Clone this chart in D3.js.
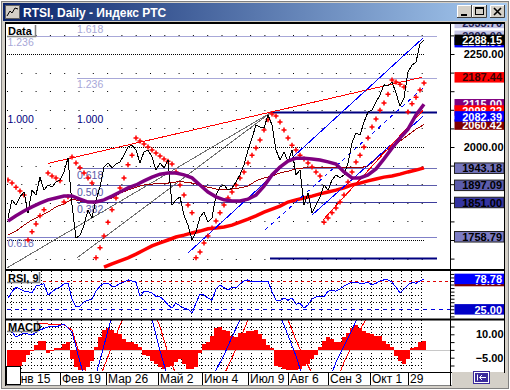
<!DOCTYPE html>
<html>
<head>
<meta charset="utf-8">
<script src="https://cdn.jsdelivr.net/npm/d3@7"></script>
<style>
  body { margin: 0; background: #d4d0c8; }
  svg { display: block; }
  text { font-family: "Liberation Sans", Arial, sans-serif; }
</style>
</head>
<body>
<svg id="mychart" width="510" height="390"></svg>
<script>
const width = 510
const height = 390

// bar index 0 = first bar on screen, closes stored every 2nd bar
const closes = [1809, 1858, 1844, 1866, 1879, 1823, 1884, 1871, 1919, 1884,
  1898, 1892, 1906, 1911, 1933, 1970, 1844, 1755, 1763, 1790,
  1831, 1809, 1858, 1892, 1946, 1957, 1944, 1954, 1960, 1978,
  2000, 2005, 1992, 1957, 1987, 1992, 1973, 1938, 1957, 1944,
  1965, 1844, 1858, 1866, 1817, 1790, 1750, 1772, 1812, 1825,
  1798, 1809, 1871, 1892, 1898, 1884, 1890, 1906, 1925, 1952,
  1992, 2024, 2059, 2054, 2051, 2086, 2059, 1992, 1965, 1987,
  1960, 1992, 1925, 1938, 1844, 1876, 1823, 1844, 1866, 1898,
  1884, 1911, 1925, 1917, 1925, 1957, 2011, 2038, 2032, 2067,
  2094, 2099, 2121, 2140, 2167, 2164, 2175, 2145, 2110, 2132,
  2202, 2220, 2228, 2277, 2288.15]

// moving averages, every 4th bar
const purpleMA = [1801, 1815, 1828, 1839, 1849, 1858, 1863, 1868, 1868, 1860,
  1852, 1852, 1858, 1868, 1879, 1890, 1898, 1909, 1919, 1927,
  1930, 1930, 1925, 1917, 1898, 1879, 1866, 1858, 1855, 1855,
  1860, 1871, 1895, 1925, 1946, 1962, 1970, 1970, 1968, 1965,
  1960, 1954, 1933, 1917, 1917, 1925, 1941, 1968, 1997, 2024,
  2048, 2086, 2115]
const maroonMA = [1763, 1774, 1790, 1804, 1815, 1825, 1839, 1847, 1860, 1855,
  1852, 1852, 1858, 1863, 1876, 1884, 1892, 1898, 1900, 1903,
  1903, 1906, 1906, 1903, 1898, 1892, 1887, 1887, 1887, 1890,
  1895, 1909, 1917, 1922, 1930, 1935, 1941, 1944, 1946, 1946,
  1946, 1946, 1944, 1944, 1944, 1949, 1968, 1987, 2000, 2016,
  2032, 2048, 2060.42]
// long MA starts at bar 48
const redMA = [1677, 1686, 1694, 1702, 1712, 1723, 1734, 1742, 1750, 1758,
  1763, 1769, 1774, 1780, 1782, 1785, 1790, 1798, 1806, 1815,
  1825, 1833, 1841, 1852, 1858, 1863, 1868, 1874, 1879, 1884,
  1890, 1898, 1903, 1909, 1914, 1919, 1922, 1927, 1933, 1938, 1944]

// parabolic SAR, every 2nd bar
const sar = [1911, 1903, 1892, 1882, 1871, 1750, 1772, 1793, 1815, 1831,
  1930, 1922, 1917, 1909, 1852, 1866, 1973, 1957, 1944, 1930,
  1917, 1903, 1702, 1729, 1761, 1798, 1831, 1863, 1890, 1917,
  1952, 1978, 2024, 2016, 2008, 2000, 1992, 1984, 1976, 1968,
  1962, 1954, 1933, 1898, 1871, 1844, 1823, 1702, 1718, 1742,
  1761, 1782, 1801, 1823, 1844, 1863, 1879, 1898, 1917, 1933,
  1957, 1978, 1997, 2019, 2046, 2073, 2089, 2083, 2067, 2046,
  2024, 2005, 1992, 1978, 1968, 1957, 1946, 1933, 1922, 1798,
  1809, 1823, 1836, 1852, 1871, 1906, 1933, 1960, 1978, 2000,
  2024, 2054, 2075, 2099, 2118, 2142, 2180, 2175, 2169, 2161,
  2094, 2116, 2134, 2153, 2172]

// trend lines as [bar, value] pairs
const redTrend = [[20, 1956], [207, 2187.44]]
const blueUpper = [[90, 1715], [207.5, 2293]]
const blueDashed = [[128.5, 1777], [207.5, 2159]]
const blueLower = [[152, 1817], [207.5, 2082.39]]
const redLower = [[157.5, 1804], [207.5, 2098.22]]
const grayFan1 = [[-0.5, 1675], [131, 2091]]
const grayFan2 = [[34.5, 1702], [131, 2091]]

// fibonacci levels
const fibRight = [2333.70, 2185.50, 2093.00, 1943.18, 1897.09, 1851.00, 1700.80]
const fibRightLabels = ["1.618", "1.236", "1.000", "0.618", "0.500", "0.382", ""]
const fibLeft = [2299.00, 2093.00, 1758.79]
const fibLeftLabels = ["1.236", "1.000", "0.618"]

// price tags on the right scale
const tagValues = [2333.70, 2299.00, 2282.00, 2288.15, 2187.44, 2115.00, 2098.22, 2060.42, 2082.39, 1943.18, 1897.09, 1851.00, 1758.79]

// RSI 9, every 2nd bar
const rsi = [45, 56, 64, 61, 57, 56, 54, 66, 68, 70,
  50, 56, 61, 64, 70, 71, 43, 29, 31, 38,
  41, 43, 57, 66, 71, 71, 66, 66, 71, 73,
  77, 75, 73, 48, 57, 56, 54, 48, 47, 41,
  33, 27, 36, 31, 27, 25, 18, 36, 52, 50,
  45, 41, 61, 68, 63, 59, 64, 63, 70, 75,
  77, 73, 75, 75, 73, 75, 56, 41, 40, 45,
  41, 45, 34, 36, 27, 33, 43, 47, 47, 47,
  57, 59, 57, 61, 66, 70, 73, 73, 71, 71,
  73, 68, 71, 75, 77, 77, 73, 64, 54, 61,
  68, 73, 71, 75, 78.78]
const rsiTags = [75, 78.78, 25]

// MACD histogram every 2nd bar, lines every 4th bar
const macdHist = [-10, -10, -10, -10, -8, -3, -1, 3, 6, 6,
  -2, -1, 1, 1, 4, 5, -6, -11, -13, -13,
  -11, -7, 2, 8, 13, 14, 13, 11, 10, 7,
  5, 5, 4, 2, -3, -4, -7, -9, -11, -12,
  -11, -10, -8, -6, -9, -12, -12, -11, -2, 4,
  5, 9, 14, 15, 13, 12, 9, 8, 11, 11,
  12, 12, 13, 10, 7, 3, 1, -10, -11, -12,
  -13, -13, -13, -12, -10, -9, -6, -3, 2, 6,
  8, 7, 5, 5, 8, 11, 14, 16, 14, 12,
  11, 10, 9, 9, 6, 4, 2, -4, -7, -9,
  -6, 1, 2, 5, 6]
const macdLine = [14.7, 8.3, 10.8, 9.6, 12.8, 14.7, 14.7, 16.6, 11.5, -7.8,
  -25, -16, 3, 22, 30, 32, 32, 28, 20, -0.7,
  -18, -28, -32, -32, -30, -22, -13, -3.3, 8.3, 19.2,
  28, 32, 33, 30, 22, 9.5, -4, -20, -28, -30,
  -22, -7.8, 2.5, 12.8, 24, 30, 32, 30, 26, 22,
  22, 24, 26]
const signalLine = [17.2, 17.2, 16.6, 15.3, 17.2, 16.6, 16, 16, 12.8, -3.9,
  -18, -24, -11, 2.5, 16, 26, 30, 31, 28, 14.7,
  -2, -16, -26, -30, -30, -27, -22, -16, -5.2, 7,
  19.2, 27, 31, 32, 30, 19.2, 6.3, -5, -15, -22,
  -25, -21, -7.8, 2.5, 12.8, 22, 28, 30, 30, 28,
  25, 24, 23]

const dateIdx = [1, 26, 49, 75, 97, 120, 140, 160, 181, 200]
const dateLabels = ["Янв 15", "Фев 19", "Мар 26", "Май 2", "Июн 4", "Июл 9", "Авг 6", "Сен 3", "Окт 1", "29"]

const x = d3.scaleLinear().domain([0, 208]).range([8, 424])
const y = d3.scaleLinear().domain([1750, 2250]).range([240, 54])
const yRsi = d3.scaleLinear().domain([25, 75]).range([309.3, 281])
const yMacd = d3.scaleLinear().domain([-5, 10]).range([357.7, 334.3])

const px = v => Math.round(v) + 0.5
const fmt = d3.format(".2f")

function chart() {
  const svg = d3.select('#mychart').attr('viewBox', [0, 0, width, height])
  const defs = svg.append('defs')

  // ---- window chrome ----
  svg.append('rect').attr('width', width).attr('height', height).attr('fill', '#d4d0c8')
  svg.append('rect').attr('x', 0.5).attr('y', 0.5).attr('width', width - 1).attr('height', height - 1)
    .attr('fill', 'none').attr('stroke', '#ffffff')
  svg.append('rect').attr('x', 1.5).attr('y', 1.5).attr('width', width - 3).attr('height', height - 3)
    .attr('fill', 'none').attr('stroke', '#808080')

  const grad = defs.append('linearGradient').attr('id', 'tb')
  grad.append('stop').attr('offset', 0).attr('stop-color', '#0a246a')
  grad.append('stop').attr('offset', 1).attr('stop-color', '#a6caf0')
  svg.append('rect').attr('x', 3).attr('y', 3).attr('width', 504).attr('height', 18).attr('fill', 'url(#tb)')

  // title icon
  svg.append('rect').attr('x', 5.5).attr('y', 5.5).attr('width', 14).attr('height', 13)
    .attr('fill', '#d4d0c8').attr('stroke', '#606060')
  svg.append('path').attr('d', 'M7,16L10,11L12,13L15,8L18,9').attr('fill', 'none').attr('stroke', '#000')
  svg.append('text').attr('x', 23).attr('y', 16.5).attr('fill', '#fff')
    .attr('font-size', 12).attr('font-weight', 'bold').text('RTSI, Daily - Индекс РТС')

  // title buttons
  const btnX = [457, 472, 490]
  btnX.forEach((bx, k) => {
    const g = svg.append('g').attr('transform', `translate(${bx},5)`)
    g.append('rect').attr('width', 15).attr('height', 13).attr('fill', '#d4d0c8')
    g.append('path').attr('d', 'M0.5,13V0.5H15').attr('fill', 'none').attr('stroke', '#fff')
    g.append('path').attr('d', 'M0,12.5H14.5V0').attr('fill', 'none').attr('stroke', '#404040')
    if (k === 0) g.append('rect').attr('x', 4).attr('y', 9).attr('width', 6).attr('height', 2).attr('fill', '#000')
    if (k === 1) {
      g.append('rect').attr('x', 3.5).attr('y', 2.5).attr('width', 8).attr('height', 7).attr('fill', 'none').attr('stroke', '#000')
      g.append('rect').attr('x', 3.5).attr('y', 2.5).attr('width', 8).attr('height', 1.5).attr('fill', '#000')
    }
    if (k === 2) g.append('path').attr('d', 'M4,3L11,10M11,3L4,10').attr('stroke', '#000').attr('stroke-width', 1.6)
  })

  // chart area
  svg.append('rect').attr('x', 6).attr('y', 22).attr('width', 499).attr('height', 350).attr('fill', '#fff')
  svg.append('rect').attr('x', 6).attr('y', 372).attr('width', 446).attr('height', 13).attr('fill', '#fff')

  const clip = (id, x0, y0, w, h) => defs.append('clipPath').attr('id', id)
    .append('rect').attr('x', x0).attr('y', y0).attr('width', w).attr('height', h)
  clip('cMain', 7, 24, 443, 245)
  clip('cRsi', 7, 271, 443, 47)
  clip('cMacd', 7, 320, 443, 51)
  clip('cTags', 452, 24, 52, 245)

  // ---- main panel ----
  const main = svg.append('g').attr('clip-path', 'url(#cMain)')

  d3.range(1700, 2301, 50).forEach(v => {
    main.append('line').attr('x1', 7).attr('x2', 425).attr('y1', px(y(v))).attr('y2', px(y(v)))
      .attr('stroke', '#000').attr('stroke-dasharray', v % 250 === 0 ? '1,1' : '1,13.3')
  })

  // fib sets
  const fibRightLine = ['#a8a8d8', '#a8a8d8', '#000080', '#7070b8', '#5a5aaa', '#3c3c9c', '#000080']
  const fibRightText = ['#a8a8d8', '#a8a8d8', '#000080', '#5a5aaa', '#5a5aaa', '#5a5aaa', '#000']
  fibRight.forEach((v, k) => {
    const navy = k === 2 || k === 6
    main.append('line').attr('x1', x(navy ? 131 : 34.5)).attr('x2', x(214.5))
      .attr('y1', px(y(v))).attr('y2', px(y(v)))
      .attr('stroke', fibRightLine[k]).attr('stroke-width', navy ? 2 : 1)
    main.append('text').attr('x', x(34.5)).attr('y', y(v) + 10.5)
      .attr('font-size', 10.5).attr('fill', fibRightText[k]).text(fibRightLabels[k])
  })
  const fibLeftLine = ['#a8a8d8', 'none', '#8080c8']
  const fibLeftText = ['#a8a8d8', '#000080', '#7070b8']
  fibLeft.forEach((v, k) => {
    main.append('line').attr('x1', x(-0.5)).attr('x2', x(214.5))
      .attr('y1', px(y(v))).attr('y2', px(y(v))).attr('stroke', fibLeftLine[k])
    main.append('text').attr('x', x(-0.5) + 0.5).attr('y', y(v) + 10.5)
      .attr('font-size', 10.5).attr('fill', fibLeftText[k]).text(fibLeftLabels[k])
  })

  const seg = d3.line().x(d => x(d[0])).y(d => y(d[1]))
  const drawLine = (pts, color, w, dash) => main.append('path').attr('d', seg(pts))
    .attr('fill', 'none').attr('stroke', color).attr('stroke-width', w)
    .attr('stroke-dasharray', dash || null).attr('shape-rendering', w === 1 ? 'crispEdges' : null)

  drawLine(grayFan1, '#6e6e6e', 1)
  drawLine(grayFan2, '#6e6e6e', 1)

  const series = (vals, start, stepN) => vals.map((v, k) => [start + k * stepN, v])
  drawLine(series(redMA, 48, 4), '#ff0000', 3.5)
  drawLine(series(maroonMA, 0, 4), '#a00000', 1)

  drawLine(redTrend, '#ff0000', 1)
  drawLine(blueUpper, '#0000ff', 1)
  drawLine(blueDashed, '#0000ff', 1, '4,4')
  drawLine(blueLower, '#0000ff', 1)
  drawLine(redLower, '#ff0000', 1)

  main.append('g').selectAll('path').data(series(sar, 0, 2)).join('path')
    .attr('transform', d => `translate(${x(d[0])},${y(d[1])})`)
    .attr('d', 'M-2.5,0H2.5M0,-2.5V2.5').attr('stroke', '#ff0000').attr('stroke-width', 1.5)

  drawLine(series(closes, 0, 2), '#000', 1)
  drawLine(series(purpleMA, 0, 4), '#800080', 3.5)

  // "Data" tag
  svg.append('rect').attr('x', 7).attr('y', 25).attr('width', 29).attr('height', 11).attr('fill', '#fff')
  svg.append('path').attr('d', 'M35.5,25V36.5H7').attr('fill', 'none').attr('stroke', '#808080').attr('stroke-width', 1.5)
  svg.append('text').attr('x', 8).attr('y', 34.5).attr('font-size', 11).attr('font-weight', 'bold').text('Data')

  // right scale
  svg.append('g').attr('transform', 'translate(450.5,0)')
    .attr('font-family', '"Liberation Sans", Arial, sans-serif')
    .call(d3.axisRight(y).tickValues(d3.range(1700, 2301, 50)).tickSize(4)
      .tickFormat(v => (v === 2250 || v === 2000) ? fmt(v) : ''))
    .call(g => g.select('.domain').remove())
    .call(g => g.selectAll('text').attr('x', 53).attr('text-anchor', 'end')
      .attr('font-size', 11).attr('font-weight', 'bold').attr('fill', '#000'))

  const tagFill = ['#c4c4e4', '#c4c4e4', '#0000ff', '#000000', '#ff0000', '#800080', '#ff0000', '#800000', '#0000ff', '#7474bc', '#5c5cac', '#3434a0', '#7c7cc4']
  const tagInk = ['#24245a', '#24245a', '#fff', '#fff', '#3a0000', '#fff', '#fff', '#fff', '#fff', '#000', '#000', '#000', '#000']
  const tags = svg.append('g').attr('clip-path', 'url(#cTags)')
  tagValues.forEach((v, k) => {
    const cy = y(v)
    tags.append('rect').attr('x', 454.5).attr('y', cy - 5.2).attr('width', 49.5).attr('height', 10.5)
      .attr('fill', tagFill[k]).attr('stroke', k >= 9 ? '#202020' : 'none')
    tags.append('text').attr('x', 502).attr('y', cy + 4.2).attr('text-anchor', 'end')
      .attr('font-size', 11).attr('font-weight', 'bold').attr('fill', tagInk[k]).text(fmt(v))
  })

  // ---- grid shared by lower panels ----
  const vx = d3.range(11, 424, 10)

  // ---- RSI panel ----
  const rp = svg.append('g').attr('clip-path', 'url(#cRsi)')
  vx.forEach(xx => rp.append('line').attr('x1', xx + 0.5).attr('x2', xx + 0.5).attr('y1', 271).attr('y2', 318)
    .attr('stroke', '#000').attr('stroke-dasharray', '1,2'))
  ;[37.5, 50, 62.5].forEach(v => rp.append('line').attr('x1', 7).attr('x2', 424)
    .attr('y1', px(yRsi(v))).attr('y2', px(yRsi(v))).attr('stroke', '#000').attr('stroke-dasharray', '1,2'))
  rp.append('line').attr('x1', 7).attr('x2', 450).attr('y1', px(yRsi(75))).attr('y2', px(yRsi(75)))
    .attr('stroke', '#e00000').attr('stroke-dasharray', '3,3')
  rp.append('line').attr('x1', 7).attr('x2', 450).attr('y1', px(yRsi(25))).attr('y2', px(yRsi(25)))
    .attr('stroke', '#0000e0').attr('stroke-dasharray', '4,4')
  rp.append('path').attr('d', d3.line().x(d => x(d[0])).y(d => yRsi(d[1]))(series(rsi, 0, 2)))
    .attr('fill', 'none').attr('stroke', '#0000ff').attr('shape-rendering', 'crispEdges')

  svg.append('g').attr('transform', 'translate(450.5,0)')
    .call(d3.axisRight(yRsi).tickValues(d3.range(12.5, 88, 6.25)).tickSize(4).tickFormat(''))
    .call(g => g.select('.domain').remove())
  const rsiFill = ['#800000', '#0000ff', '#0000c8']
  rsiTags.forEach((v, k) => {
    svg.append('rect').attr('x', 454.5).attr('y', yRsi(v) - 5.2).attr('width', 49.5).attr('height', 10.5).attr('fill', rsiFill[k])
    svg.append('text').attr('x', 502).attr('y', yRsi(v) + 4.2).attr('text-anchor', 'end')
      .attr('font-size', 11).attr('font-weight', 'bold').attr('fill', '#fff').text(fmt(v))
  })

  svg.append('rect').attr('x', 7).attr('y', 272).attr('width', 33).attr('height', 10.5).attr('fill', '#fff')
  svg.append('path').attr('d', 'M39.5,272V282.5H7').attr('fill', 'none').attr('stroke', '#808080').attr('stroke-width', 1.5)
  svg.append('text').attr('x', 8).attr('y', 281.5).attr('font-size', 11).attr('font-weight', 'bold').text('RSI, 9')

  // ---- MACD panel ----
  const mp = svg.append('g').attr('clip-path', 'url(#cMacd)')
  vx.forEach(xx => mp.append('line').attr('x1', xx + 0.5).attr('x2', xx + 0.5).attr('y1', 320).attr('y2', 371)
    .attr('stroke', '#000').attr('stroke-dasharray', '1,2'))
  ;[-10, -5, 5, 10, 15].forEach(v => mp.append('line').attr('x1', 7).attr('x2', 424)
    .attr('y1', px(yMacd(v))).attr('y2', px(yMacd(v))).attr('stroke', '#000').attr('stroke-dasharray', '1,2'))
  mp.append('line').attr('x1', 7).attr('x2', 450).attr('y1', px(yMacd(0))).attr('y2', px(yMacd(0))).attr('stroke', '#c8c8c8')
  mp.append('g').selectAll('rect').data(series(macdHist, 0, 2)).join('rect')
    .attr('x', d => x(d[0]) - 2).attr('width', 4)
    .attr('y', d => Math.min(yMacd(0), yMacd(d[1])))
    .attr('height', d => Math.abs(yMacd(d[1]) - yMacd(0)))
    .attr('fill', '#ff0000').attr('shape-rendering', 'crispEdges')
  const mline = d3.line().x(d => x(d[0])).y(d => yMacd(d[1]))
  mp.append('path').attr('d', mline(series(signalLine, 0, 4))).attr('fill', 'none').attr('stroke', '#ff0000').attr('shape-rendering', 'crispEdges')
  mp.append('path').attr('d', mline(series(macdLine, 0, 4))).attr('fill', 'none').attr('stroke', '#0000ff').attr('shape-rendering', 'crispEdges')

  svg.append('g').attr('transform', 'translate(450.5,0)')
    .call(d3.axisRight(yMacd).tickValues([-10, -5, 0, 5, 10, 15]).tickSize(4)
      .tickFormat(v => (v === 10 || v === -5) ? fmt(v) : ''))
    .call(g => g.select('.domain').remove())
    .call(g => g.selectAll('text').attr('x', 53).attr('text-anchor', 'end')
      .attr('font-family', '"Liberation Sans", Arial, sans-serif')
      .attr('font-size', 11).attr('font-weight', 'bold').attr('fill', '#000'))

  svg.append('rect').attr('x', 7).attr('y', 321).attr('width', 31).attr('height', 10.5).attr('fill', '#fff')
  svg.append('path').attr('d', 'M37.5,321V331.5H7').attr('fill', 'none').attr('stroke', '#808080').attr('stroke-width', 1.5)
  svg.append('text').attr('x', 8).attr('y', 330.5).attr('font-size', 11).attr('font-weight', 'bold').text('MACD')

  // ---- date axis ----
  svg.append('g').attr('transform', 'translate(0,372)')
    .call(d3.axisBottom(x).tickValues(dateIdx).tickSize(13).tickFormat((d, k) => dateLabels[k]))
    .call(g => g.select('.domain').remove())
    .call(g => g.selectAll('.tick text').attr('x', 1.5).attr('y', 11).attr('dy', 0)
      .attr('text-anchor', 'start').attr('font-size', 12).attr('fill', '#000')
      .attr('font-family', '"Liberation Sans", Arial, sans-serif'))

  // ---- frame lines ----
  const hl = (x1, x2, yy, w, c) => svg.append('line').attr('x1', x1).attr('x2', x2).attr('y1', yy).attr('y2', yy)
    .attr('stroke', c || '#000').attr('stroke-width', w)
  hl(5, 505, 23, 2)
  hl(5, 505, 270, 2)
  hl(5, 505, 319.5, 2)
  hl(5, 452, 372.5, 1)
  hl(5, 452, 385.5, 1, '#808080')
  svg.append('line').attr('x1', 5.5).attr('x2', 5.5).attr('y1', 22).attr('y2', 386).attr('stroke', '#000')
  svg.append('line').attr('x1', 450.5).attr('x2', 450.5).attr('y1', 22).attr('y2', 386).attr('stroke', '#000')
  svg.append('line').attr('x1', 504.5).attr('x2', 504.5).attr('y1', 22).attr('y2', 373).attr('stroke', '#000')
  svg.append('rect').attr('x', 452).attr('y', 373).attr('width', 53).attr('height', 13).attr('fill', '#d4d0c8')

  // corner box & scroll button
  svg.append('rect').attr('x', 6.5).attr('y', 366.5).attr('width', 14).attr('height', 18)
    .attr('fill', '#fff').attr('stroke', '#000')
  svg.append('rect').attr('x', 473).attr('y', 371).attr('width', 17).attr('height', 13).attr('fill', '#3c2c9c')
  svg.append('rect').attr('x', 474.5).attr('y', 372.5).attr('width', 14).attr('height', 10).attr('fill', 'none').attr('stroke', '#fff')
  svg.append('path').attr('d', 'M477.5,374.5V380.5M486,377.5H479.5M482,375L479.5,377.5L482,380')
    .attr('fill', 'none').attr('stroke', '#fff')

  return svg.node()
}

chart()
</script>
</body>
</html>
